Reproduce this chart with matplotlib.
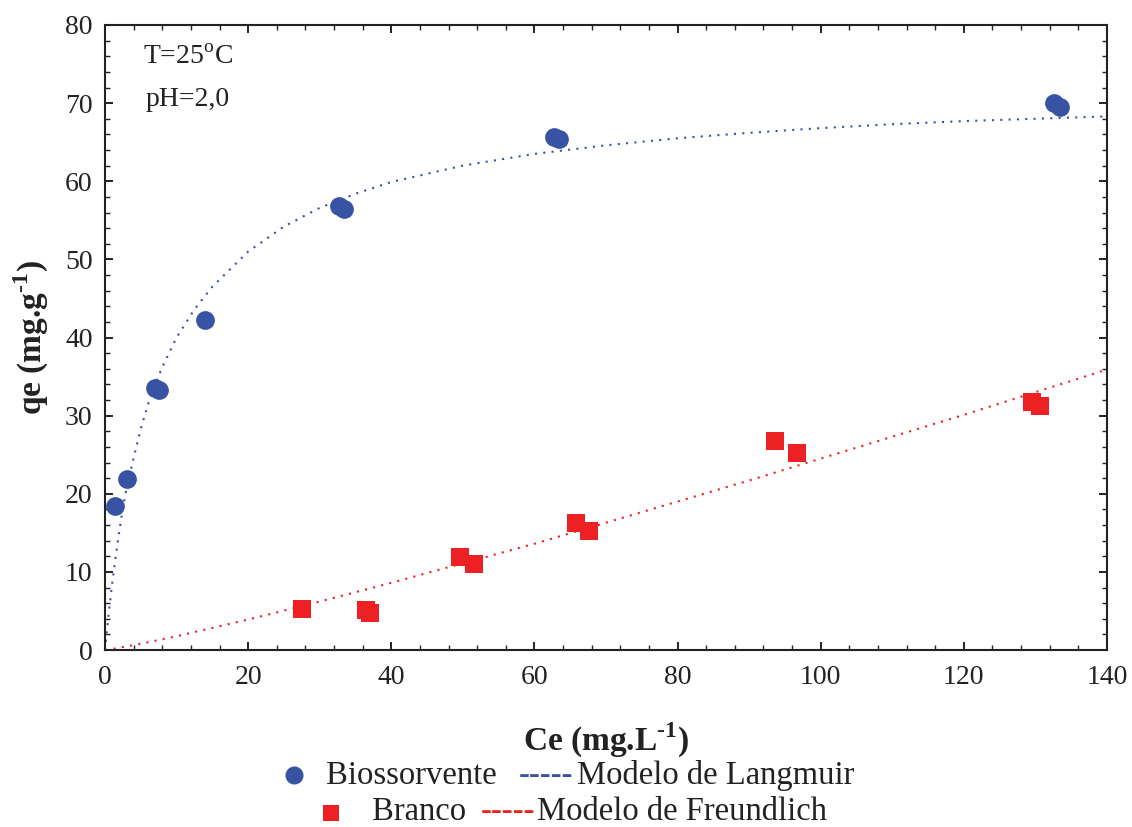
import matplotlib
matplotlib.use("Agg")
import matplotlib.pyplot as plt
from matplotlib.lines import Line2D
from matplotlib.ticker import MultipleLocator

plt.rcParams['font.family'] = ['Liberation Serif', 'DejaVu Serif']
plt.rcParams['mathtext.fontset'] = 'custom'
plt.rcParams['mathtext.rm'] = 'Liberation Serif'
plt.rcParams['mathtext.bf'] = 'Liberation Serif:bold'

# Experimental data
bio_ce = [1.4, 3.1, 7.0, 7.6, 14.0, 32.7, 33.4, 62.7, 63.5, 132.6, 133.4]
bio_qe = [18.4, 21.9, 33.6, 33.3, 42.3, 56.8, 56.5, 65.7, 65.4, 70.0, 69.5]
bra_ce = [27.5, 36.5, 37.0, 49.6, 51.6, 65.8, 67.6, 93.6, 96.7, 129.5, 130.6]
bra_qe = [5.3, 5.1, 4.8, 11.9, 11.0, 16.2, 15.2, 26.8, 25.2, 31.7, 31.2]

# Model curves
lang_ce = [0, 0.5, 1, 1.5, 2, 2.5, 3, 3.5, 4, 5, 6, 7, 8, 10, 12.5, 15, 20, 25, 30,
           35, 40, 50, 60, 70, 80, 90, 100, 110, 120, 130, 140]
lang_qe = [0, 4.5, 8.5, 12.0, 15.2, 18.2, 20.6, 22.6, 24.6, 28.3, 31.4, 34.0, 36.2, 40.0,
           43.6, 46.5, 51.0, 54.2, 56.6, 58.4, 59.9, 62.0, 63.5, 64.6, 65.5, 66.2, 66.8,
           67.3, 67.7, 68.0, 68.3]
freu_ce = [1.2, 5, 10, 20, 30, 40, 50, 60, 70, 80, 90, 100, 110, 120, 130, 140]
freu_qe = [0.16, 0.8, 1.76, 3.9, 6.2, 8.6, 11.1, 13.6, 16.3, 19.0, 21.7, 24.5, 27.3,
           30.1, 33.0, 35.9]

blue = '#3953A4'
red = '#ED2024'
ink = '#222222'

W, H = 1132, 827
fig = plt.figure(figsize=(W / 100, H / 100), dpi=100)
ax = fig.add_axes([105 / W, 1 - 650 / H, (1107 - 105) / W, (650 - 25) / H])

ax.plot(lang_ce, lang_qe, color=blue, lw=1.5, linestyle=(0, (1, 3)), zorder=2)
ax.plot(freu_ce, freu_qe, color=red, lw=1.5, linestyle=(0, (1, 3)), zorder=2)
ax.plot(bio_ce, bio_qe, 'o', color=blue, markersize=13.5, markeredgewidth=0, zorder=3)
ax.plot(bra_ce, bra_qe, 's', color=red, markersize=12.5, markeredgewidth=0, zorder=3)

ax.set_xlim(0, 140)
ax.set_ylim(0, 80)
ax.xaxis.set_major_locator(MultipleLocator(20))
ax.xaxis.set_minor_locator(MultipleLocator(4))
ax.yaxis.set_major_locator(MultipleLocator(10))
ax.yaxis.set_minor_locator(MultipleLocator(2))
ax.tick_params(which='both', direction='in', top=True, right=True, colors=ink,
               labelcolor=ink)
ax.tick_params(which='major', length=6, width=1.4, labelsize=20)
ax.tick_params(which='minor', length=3.5, width=1.0)
ax.tick_params(axis='x', pad=11)
ax.tick_params(axis='y', pad=9)
for s in ax.spines.values():
    s.set_linewidth(1.5)
    s.set_color(ink)

ax.set_xlabel(r'Ce (mg.L$^{\mathbf{\text{-}1}}$)', fontsize=24, fontweight='bold',
              labelpad=22, color=ink)
ax.set_ylabel(r'qe (mg.g$^{\mathbf{\text{-}1}}$)', fontsize=24, fontweight='bold',
              labelpad=10, color=ink)

fig.text(188 / W, 1 - 58 / H, r'T=25$^{\rm o}$C', fontsize=20, ha='center', va='center',
         color=ink)
fig.text(188 / W, 1 - 99 / H, 'pH=2,0', fontsize=20, ha='center', va='center',
         color=ink)

# Custom legend below the axes
fig.add_artist(Line2D([294 / W], [1 - 775 / H], marker='o', color=blue, markersize=13,
                      markeredgewidth=0, linestyle='none'))
fig.add_artist(Line2D([331 / W], [1 - 813 / H], marker='s', color=red, markersize=12,
                      markeredgewidth=0, linestyle='none'))
fs = 23.5
y1 = 1 - 784 / H
y2 = 1 - 820 / H
fig.text(326 / W, y1, 'Biossorvente', fontsize=fs, ha='left', va='baseline', color=ink)
fig.text(519 / W, y1, '-----', fontsize=fs, ha='left', va='baseline', color=blue)
fig.text(577 / W, y1, 'Modelo de Langmuir', fontsize=fs, ha='left', va='baseline',
         color=ink)
fig.text(372 / W, y2, 'Branco', fontsize=fs, ha='left', va='baseline', color=ink)
fig.text(481 / W, y2, '-----', fontsize=fs, ha='left', va='baseline', color=red)
fig.text(537 / W, y2, 'Modelo de Freundlich', fontsize=fs, ha='left', va='baseline',
         color=ink)

fig.savefig('out.png', dpi=100)
